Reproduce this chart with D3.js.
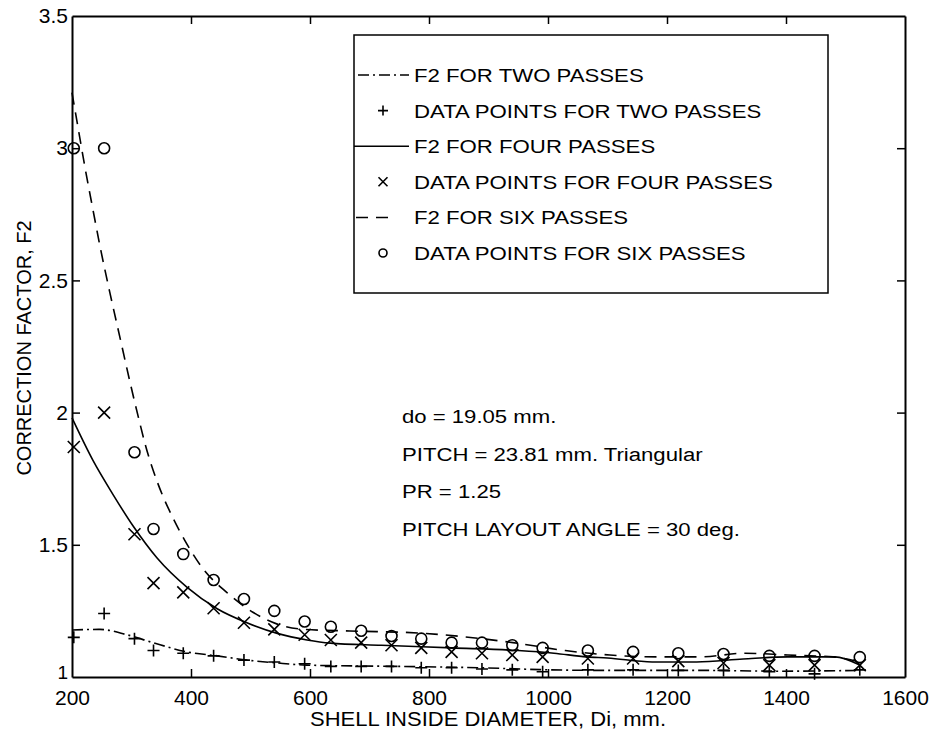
<!DOCTYPE html>
<html>
<head>
<meta charset="utf-8">
<script src="https://cdn.jsdelivr.net/npm/d3@7"></script>
<style>
  body { margin: 0; background: #fff; }
  svg { display: block; font-family: "Liberation Sans", Arial, sans-serif; }
</style>
</head>
<body>
<div class="container"></div>
<script>
var SVG_WIDTH = 932, SVG_HEIGHT = 735;

// shell diameters of the measured points, mm
var diameters = [203, 254, 305, 337, 387, 438, 489, 540, 591, 635, 686, 737, 787, 838, 889, 940, 991, 1067, 1143, 1219, 1295, 1372, 1448, 1524];

var pointsTwo = [1.15, 1.24, 1.145, 1.10, 1.09, 1.08, 1.064, 1.057, 1.05, 1.04, 1.04, 1.04, 1.035, 1.035, 1.03, 1.027, 1.02, 1.027, 1.027, 1.025, 1.025, 1.02, 1.012, 1.027];
var pointsFour = [1.87, 2.0, 1.54, 1.355, 1.32, 1.26, 1.205, 1.18, 1.16, 1.14, 1.13, 1.12, 1.11, 1.095, 1.09, 1.083, 1.076, 1.07, 1.07, 1.06, 1.053, 1.045, 1.045, 1.045];
var pointsSix = [3.0, 3.0, 1.85, 1.56, 1.465, 1.367, 1.295, 1.25, 1.21, 1.19, 1.175, 1.155, 1.145, 1.13, 1.13, 1.12, 1.11, 1.10, 1.095, 1.09, 1.087, 1.08, 1.08, 1.075];

// fitted F2 curves
var fitTwoX = [200, 247, 292, 336, 393, 444, 494, 545, 595, 751, 886, 987, 1087, 1256, 1390, 1524];
var fitTwoY = [1.178, 1.18, 1.16, 1.13, 1.095, 1.08, 1.064, 1.053, 1.045, 1.04, 1.035, 1.028, 1.025, 1.025, 1.022, 1.025];
var fitFourX = [200, 235, 269, 303, 343, 393, 444, 494, 545, 595, 634, 720, 838, 950, 1010, 1065, 1100, 1175, 1250, 1328, 1403, 1482, 1524];
var fitFourY = [1.98, 1.82, 1.69, 1.57, 1.45, 1.34, 1.258, 1.205, 1.165, 1.14, 1.128, 1.12, 1.11, 1.10, 1.09, 1.076, 1.072, 1.057, 1.057, 1.068, 1.076, 1.076, 1.045];
var fitSixX = [200, 210, 222, 235, 247, 264, 281, 297, 314, 323, 343, 370, 390, 420, 460, 504, 545, 592, 667, 785, 941, 1029, 1104, 1183, 1256, 1331, 1403, 1479, 1524];
var fitSixY = [3.21, 3.08, 2.925, 2.77, 2.63, 2.45, 2.28, 2.12, 1.96, 1.88, 1.74, 1.60, 1.515, 1.41, 1.32, 1.245, 1.20, 1.18, 1.174, 1.166, 1.13, 1.10, 1.083, 1.076, 1.076, 1.09, 1.083, 1.076, 1.057];

var xTicks = [200, 400, 600, 800, 1000, 1200, 1400, 1600];
var yTicks = [1, 1.5, 2, 2.5, 3, 3.5];

var legendLabels = ["F2 FOR TWO PASSES", "DATA POINTS FOR TWO PASSES", "F2 FOR FOUR PASSES",
  "DATA POINTS FOR FOUR PASSES", "F2 FOR SIX PASSES", "DATA POINTS FOR SIX PASSES"];
var notes = ["do = 19.05 mm.", "PITCH = 23.81 mm. Triangular", "PR = 1.25", "PITCH LAYOUT ANGLE = 30 deg."];

var DASH_TWO = "11,4,2,4", DASH_SIX = "12,8";

document.addEventListener('DOMContentLoaded', function () {
    var svg = d3.select(".container").append("svg")
        .attr("width", SVG_WIDTH)
        .attr("height", SVG_HEIGHT);

    var left = 72, top = 16, right = 905, bottom = 677;

    var x = d3.scaleLinear().domain([200, 1600]).range([left, right]);
    var y = d3.scaleLinear().domain([1, 3.5]).range([bottom, top]);

    // the scanned lettering is wider than Arial, so stretch it a bit
    function wideText(g, tx, ty, size, sx, str, anchor) {
        return g.append("text")
            .attr("transform", "translate(" + tx + "," + ty + ") scale(" + sx + ",1)")
            .attr("font-size", size)
            .attr("text-anchor", anchor || "start")
            .text(str);
    }

    var plot = svg.append("g");

    // frame with inward ticks on all four sides
    plot.append("g").attr("transform", "translate(0," + bottom + ")")
        .call(d3.axisBottom(x).tickValues(xTicks).tickSizeInner(-8).tickSizeOuter(0).tickPadding(13)
            .tickFormat(d3.format("d")))
        .call(function (g) {
            g.selectAll("text").attr("font-size", 21).attr("fill", "#000").attr("font-family", null);
        });
    plot.append("g").attr("transform", "translate(0," + top + ")")
        .call(d3.axisTop(x).tickValues(xTicks).tickSizeInner(-8).tickSizeOuter(0).tickFormat(""));
    plot.append("g").attr("transform", "translate(" + left + ",0)")
        .call(d3.axisLeft(y).tickValues(yTicks).tickSizeInner(-8).tickSizeOuter(0).tickPadding(4)
            .tickFormat(function (d) { return String(d); }))
        .call(function (g) {
            g.selectAll("text").attr("font-size", 21).attr("fill", "#000").attr("font-family", null);
            // keep the bottom "1" clear of the "200" below it
            g.selectAll(".tick").filter(function (d) { return d === 1; })
                .select("text").attr("dy", "0.08em").attr("font-size", 19);
        });
    plot.append("g").attr("transform", "translate(" + right + ",0)")
        .call(d3.axisRight(y).tickValues(yTicks).tickSizeInner(-8).tickSizeOuter(0).tickFormat(""));
    plot.selectAll(".domain").attr("stroke", "#000").attr("stroke-width", 2);
    plot.selectAll(".tick line").attr("stroke", "#000").attr("stroke-width", 1.5);
    plot.selectAll(".tick").filter(function (d) { return d === 200 || d === 1600 || d === 1 || d === 3.5; })
        .select("line").remove();

    // fitted curves
    var line = d3.line()
        .x(function (d) { return x(d[0]); })
        .y(function (d) { return y(d[1]); })
        .curve(d3.curveMonotoneX);

    function pairs(xs, ys) { return xs.map(function (v, i) { return [v, ys[i]]; }); }

    plot.append("path").datum(pairs(fitTwoX, fitTwoY))
        .attr("d", line).attr("fill", "none").attr("stroke", "#000")
        .attr("stroke-width", 1.6).attr("stroke-dasharray", DASH_TWO);
    plot.append("path").datum(pairs(fitFourX, fitFourY))
        .attr("d", line).attr("fill", "none").attr("stroke", "#000").attr("stroke-width", 1.6);
    plot.append("path").datum(pairs(fitSixX, fitSixY))
        .attr("d", line).attr("fill", "none").attr("stroke", "#000")
        .attr("stroke-width", 1.6).attr("stroke-dasharray", DASH_SIX);

    // markers
    function plus(g, cx, cy, s) {
        g.append("path").attr("d", "M" + (cx - s) + "," + cy + "H" + (cx + s) + "M" + cx + "," + (cy - s) + "V" + (cy + s))
            .attr("stroke", "#000").attr("stroke-width", 1.6).attr("fill", "none");
    }
    function cross(g, cx, cy, s) {
        g.append("path").attr("d", "M" + (cx - s) + "," + (cy - s) + "L" + (cx + s) + "," + (cy + s) +
            "M" + (cx - s) + "," + (cy + s) + "L" + (cx + s) + "," + (cy - s))
            .attr("stroke", "#000").attr("stroke-width", 1.6).attr("fill", "none");
    }
    function circle(g, cx, cy, r) {
        g.append("circle").attr("cx", cx).attr("cy", cy).attr("r", r)
            .attr("stroke", "#000").attr("stroke-width", 1.6).attr("fill", "none");
    }

    var marks = plot.append("g");
    diameters.forEach(function (d, i) {
        plus(marks, x(d), y(pointsTwo[i]), 6);
        cross(marks, x(d), y(pointsFour[i]), 6);
        circle(marks, x(d), y(pointsSix[i]), 5.5);
    });

    // legend
    var lg = svg.append("g").attr("transform", "translate(354,35)");
    lg.append("rect").attr("width", 474).attr("height", 258)
        .attr("fill", "#fff").attr("stroke", "#000").attr("stroke-width", 1.5);
    legendLabels.forEach(function (label, i) {
        var cy = 40 + i * 35.6;
        if (i === 0) {
            lg.append("line").attr("x1", 4).attr("x2", 55).attr("y1", cy).attr("y2", cy)
                .attr("stroke", "#000").attr("stroke-width", 1.5).attr("stroke-dasharray", DASH_TWO);
        } else if (i === 2) {
            lg.append("line").attr("x1", 0).attr("x2", 55).attr("y1", cy).attr("y2", cy)
                .attr("stroke", "#000").attr("stroke-width", 1.5);
        } else if (i === 4) {
            lg.append("line").attr("x1", 2).attr("x2", 40).attr("y1", cy).attr("y2", cy)
                .attr("stroke", "#000").attr("stroke-width", 1.5).attr("stroke-dasharray", "12,8");
        } else if (i === 1) {
            plus(lg, 29, cy, 5);
        } else if (i === 3) {
            cross(lg, 29, cy, 4.5);
        } else {
            circle(lg, 29, cy, 4);
        }
        wideText(lg, 60, cy + 7, 18.5, 1.2, label);
    });

    // annotation text
    notes.forEach(function (t, i) {
        wideText(svg, 402, 423 + i * 37.7, 18, 1.23, t);
    });

    // axis titles
    wideText(svg, 488, 726, 20, 1.1, "SHELL INSIDE DIAMETER, Di, mm.", "middle");
    svg.append("text").attr("transform", "translate(31,348) rotate(-90)")
        .attr("text-anchor", "middle").attr("font-size", 20)
        .text("CORRECTION FACTOR, F2");
});
</script>
</body>
</html>
